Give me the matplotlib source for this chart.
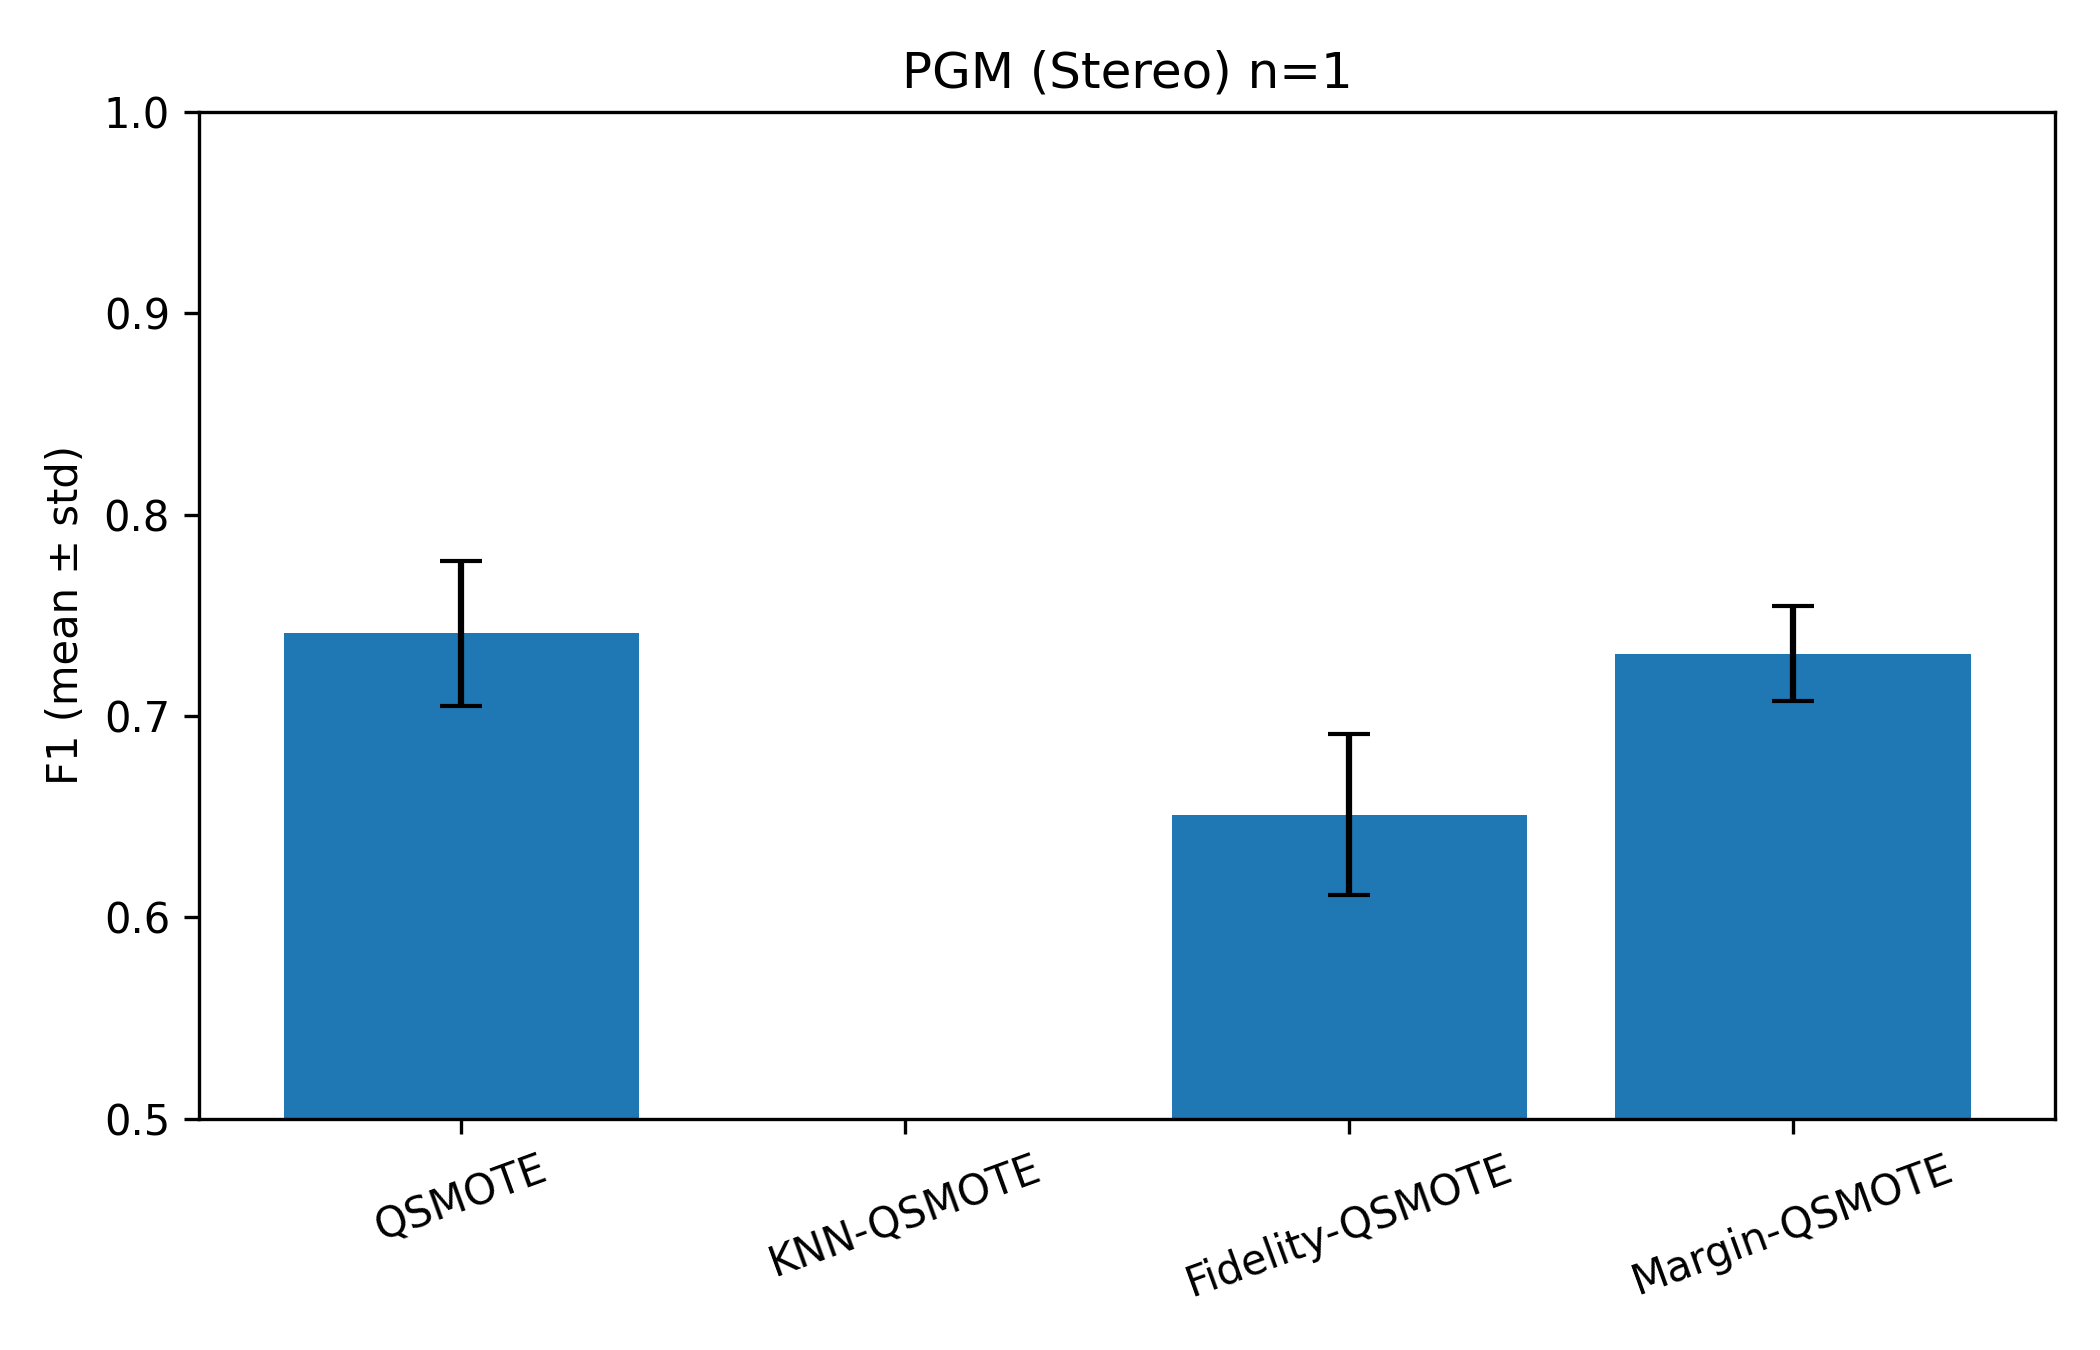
import numpy as np
import matplotlib
matplotlib.use("Agg")
import matplotlib.pyplot as plt

# Methods and scores (F1 mean and std)
methods = ["QSMOTE", "KNN-QSMOTE", "Fidelity-QSMOTE", "Margin-QSMOTE"]
f1_mean = [0.741, np.nan, 0.651, 0.731]
f1_std = [0.036, np.nan, 0.040, 0.0235]

fig, ax = plt.subplots(figsize=(7, 4.5), dpi=300)
x = np.arange(len(methods))
ax.bar(x, f1_mean, yerr=f1_std, capsize=5, color="#1f77b4")
ax.set_xticks(x)
ax.set_xticklabels(methods, rotation=20)
ax.set_ylim(0.5, 1.0)
ax.set_ylabel("F1 (mean ± std)")
ax.set_title("PGM (Stereo) n=1")

plt.tight_layout()
# nudge the top down a touch
fig.subplots_adjust(top=fig.subplotpars.top - 0.003)
plt.savefig("out.png", dpi=300)
